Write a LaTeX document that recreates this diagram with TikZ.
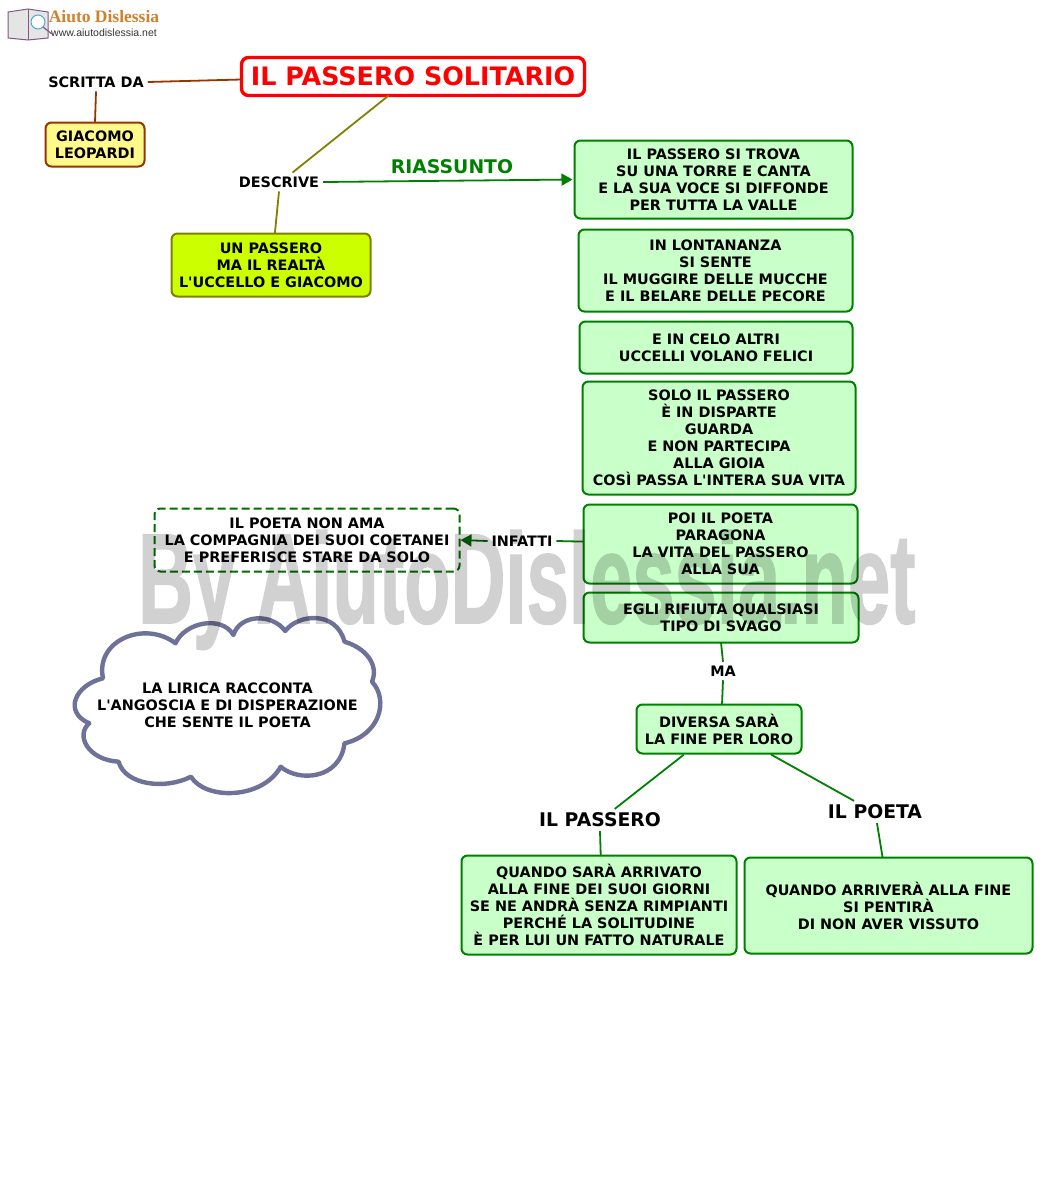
\documentclass[tikz,border=0pt]{standalone}
\usepackage{fontspec}
\newfontfamily\boxfont{DejaVu Sans}
\newfontfamily\logofont{Liberation Serif}
\newfontfamily\urlfont{Liberation Sans}
\newfontfamily\markfont[BoldFeatures={FakeBold=1.5}]{Liberation Sans}
\usetikzlibrary{arrows.meta,positioning}
\definecolor{boxgreen}{HTML}{C9FFC9}
\definecolor{linegreen}{HTML}{008000}
\definecolor{darkgreen}{HTML}{006600}
\definecolor{brownline}{HTML}{993300}
\definecolor{oliveline}{HTML}{808000}
\definecolor{cloudline}{HTML}{6F7298}
\begin{document}
\begin{tikzpicture}[
    x=1pt,y=-1pt,
    mybox/.style={
    rectangle,
    rounded corners=6pt,
    draw=linegreen,
    fill=boxgreen,
    line width=2pt,
    outer sep=0pt,
    inner sep=0pt,
    align=center,
    font=\boxfont\bfseries\fontsize{14.4}{17}\selectfont},
    mylabel/.style={
    inner sep=4pt,
    outer sep=0pt,
    font=\boxfont\bfseries\fontsize{14.4}{17}\selectfont},
    biglabel/.style={mylabel,font=\boxfont\bfseries\fontsize{18.8}{20}\selectfont},
    greenline/.style={linegreen,line width=1.8pt},
    brownconn/.style={brownline,line width=1.8pt},
    oliveconn/.style={oliveline,line width=1.8pt},
    myarrow/.style={-{Triangle[length=11pt,width=12pt]},line width=1.8pt}
    ]
    \useasboundingbox (0,0) rectangle (1053,1191);

    % logo
    \fill[gray!20,draw=gray!70!violet,line width=1pt] (8,12) -- (28,9) -- (48,12) -- (48,38) -- (28,40) -- (8,38) -- cycle;
    \draw[gray!70!violet] (28,9) -- (28,40);
    \draw[cyan!60!gray,fill=white,line width=1pt] (38,22) circle (7);
    \draw[gray!70!violet,line width=1.2pt] (43,27) -- (52,34);
    \node[inner sep=0pt,text=brown!70!orange,font=\logofont\bfseries\fontsize{17.5}{20}\selectfont] (logotext) at (104,17) {Aiuto Dislessia};
    \node[inner sep=0pt,text=black!80,font=\urlfont\fontsize{10.5}{12}\selectfont] (logourl) at (104,33) {www.aiutodislessia.net};

    % top left
    \node[mybox,draw=red,fill=white,text=red,line width=3.4pt,rounded corners=7pt,minimum width=343,minimum height=38,font=\boxfont\bfseries\fontsize{25.4}{28}\selectfont] (title) at (413,76.5) {IL PASSERO SOLITARIO};
    \node[mylabel] (scritta) at (96,82) {SCRITTA DA};
    \node[mybox,draw=brownline,fill=yellow!45,minimum width=99,minimum height=44] (giacomo) at (95,144.5) {GIACOMO\\LEOPARDI};
    \node[mylabel] (descrive) at (279,182) {DESCRIVE};
    \node[mybox,draw=oliveline,fill=lime!80!yellow,minimum width=199,minimum height=63] (passero) at (271,265) {UN PASSERO\\MA IL REALTÀ\\L'UCCELLO E GIACOMO};
    \node[biglabel,text=linegreen] (riassunto) at (452,167) {RIASSUNTO};

    % green boxes on the right
    \node[mybox,minimum width=278,minimum height=78] (b1) at (713.5,179.5) {IL PASSERO SI TROVA\\SU UNA TORRE E CANTA\\E LA SUA VOCE SI DIFFONDE\\PER TUTTA LA VALLE};
    \node[mybox,minimum width=274,minimum height=82,below=11pt of b1,xshift=2pt] (b2) {IN LONTANANZA\\SI SENTE\\IL MUGGIRE DELLE MUCCHE\\E IL BELARE DELLE PECORE};
    \node[mybox,minimum width=273,minimum height=52,below=10pt of b2,xshift=0.5pt] (b3) {E IN CELO ALTRI\\UCCELLI VOLANO FELICI};
    \node[mybox,minimum width=273,minimum height=113,below=8pt of b3,xshift=3pt] (b4) {SOLO IL PASSERO\\È IN DISPARTE\\GUARDA\\E NON PARTECIPA\\ALLA GIOIA\\COSÌ PASSA L'INTERA SUA VITA};
    \node[mybox,minimum width=274,minimum height=79,below=10pt of b4,xshift=1.5pt] (b5) {POI IL POETA\\PARAGONA\\LA VITA DEL PASSERO\\ALLA SUA};
    \node[mybox,minimum width=275,minimum height=50,below=9pt of b5,xshift=0.5pt] (b6) {EGLI RIFIUTA QUALSIASI\\TIPO DI SVAGO};
    \node[mylabel] (ma) at (723,671) {MA};
    \node[mybox,minimum width=165,minimum height=49] (b7) at (719,729) {DIVERSA SARÀ\\LA FINE PER LORO};
    \node[biglabel] (ilpasseroLab) at (600,820) {IL PASSERO};
    \node[biglabel] (ilpoetaLab) at (875,812) {IL POETA};
    \node[mybox,minimum width=275,minimum height=99] (b8) at (599,905) {QUANDO SARÀ ARRIVATO\\ALLA FINE DEI SUOI GIORNI\\SE NE ANDRÀ SENZA RIMPIANTI\\PERCHÉ LA SOLITUDINE\\È PER LUI UN FATTO NATURALE};
    \node[mybox,minimum width=288,minimum height=96] (b9) at (888.5,905.5) {QUANDO ARRIVERÀ ALLA FINE\\SI PENTIRÀ\\DI NON AVER VISSUTO};

    % left side
    \node[mylabel] (infatti) at (522,541) {INFATTI};
    \node[mybox,dash pattern=on 8pt off 4pt,draw=linegreen!85!black,fill=white,minimum width=305,minimum height=63] (poeta) at (307,540) {IL POETA NON AMA\\LA COMPAGNIA DEI SUOI COETANEI\\E PREFERISCE STARE DA SOLO};

    % cloud
    \draw[cloudline,fill=white,line width=4.4pt,line join=round]
      (175.5,643.3) .. controls (185,622) and (222,615) .. (233.4,635)
      .. controls (240,614) and (272,613) .. (285.2,631)
      .. controls (298,614) and (336,610) .. (344.5,641.7)
      .. controls (366,648) and (379,665) .. (372,681.7)
      .. controls (389,700) and (380,735) .. (344.5,743.3)
      .. controls (340,780) and (298,782) .. (280.7,766.7)
      .. controls (262,800) and (205,800) .. (191,776.7)
      .. controls (165,790) and (125,785) .. (118.6,761.7)
      .. controls (88,760) and (75,735) .. (89.3,723.3)
      .. controls (63,712) and (75,685) .. (103,678.3)
      .. controls (95,640) and (145,620) .. (175.5,643.3) -- cycle;
    \node[mylabel,align=center] (lirica) at (227.5,705) {LA LIRICA RACCONTA\\L'ANGOSCIA E DI DISPERAZIONE\\CHE SENTE IL POETA};

    % connectors
    \draw[brownconn] (scritta.east) -- (title.181);
    \draw[brownconn] (scritta.south) -- (giacomo.north);
    \draw[oliveconn] (title.218) -- (descrive.35);
    \draw[oliveconn] (descrive.south) -- (passero.83);
    \draw[myarrow,linegreen,shorten >=2pt] (descrive.east) -- (b1.180.6);
    \draw[greenline] (b5.179.2) -- (infatti.east);
    \draw[myarrow,darkgreen,shorten >=1pt] (infatti.west) -- (poeta.east);
    \draw[greenline] (b6.south) -- (ma.north);
    \draw[greenline] (ma.south) -- (b7.83);
    \draw[greenline,shorten <=2pt] (b7.216) -- (ilpasseroLab.37);
    \draw[greenline] (ilpasseroLab.south) -- (b8.88);
    \draw[greenline,shorten <=2pt] (b7.-26) -- (ilpoetaLab.152);
    \draw[greenline] (ilpoetaLab.-80) -- (b9.97.6);

    % watermark
    \begin{scope}[transparency group,opacity=0.18]
    \node[anchor=base west,inner sep=0pt,text=black,xscale=0.594,transform shape,font=\markfont\bfseries\fontsize{128}{130}\selectfont] (watermark) at (138,623) {By AiutoDislessia.net};
    \end{scope}
\end{tikzpicture}
\end{document}
